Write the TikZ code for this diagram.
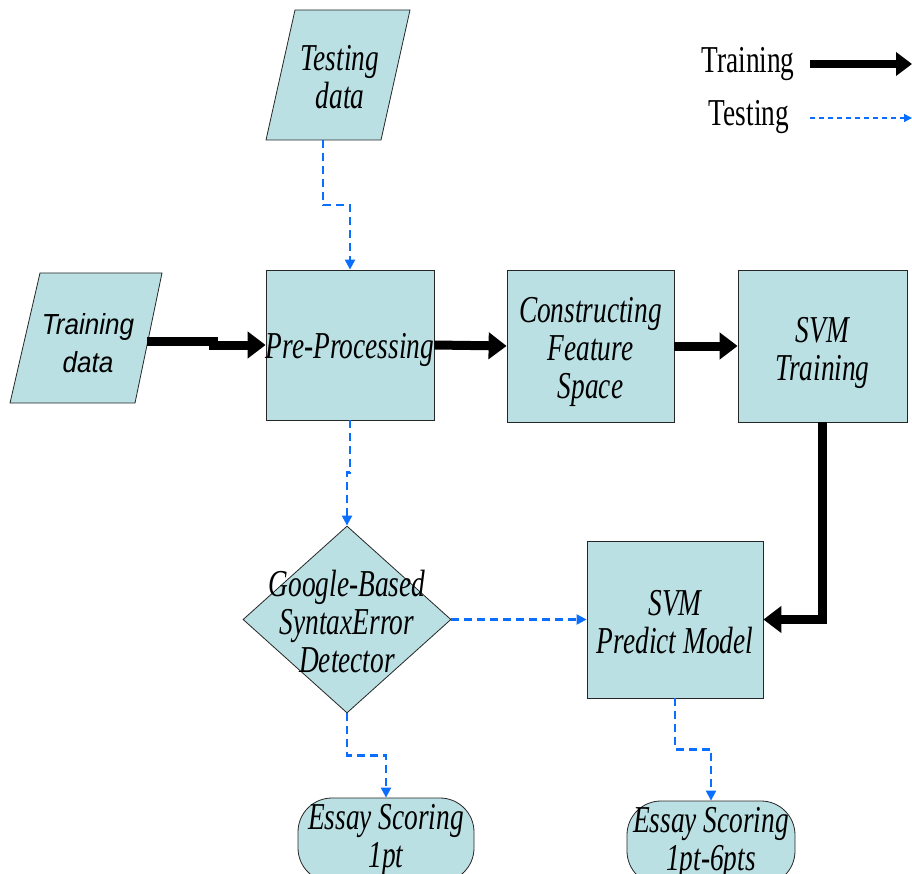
\documentclass[tikz,border=0pt]{standalone}
\usepackage{fontspec}
\setmainfont{Liberation Serif}[FakeStretch=0.72]
\newfontfamily\sansitfam{Liberation Sans}[FakeStretch=0.9]
\usetikzlibrary{arrows.meta,shapes.geometric}
\definecolor{boxfill}{RGB}{187,224,227}
\definecolor{testblue}{RGB}{10,110,255}
\newcommand\dgfont{\fontsize{38}{38}\selectfont}
\newcommand\dgsans{\sansitfam\itshape\fontsize{29}{38}\selectfont}
\tikzset{
  blk/.style={draw=black!85, line width=0.8pt, fill=boxfill},
  procbox/.style={blk, rectangle, inner sep=0pt},
  termbox/.style={blk, rectangle, rounded corners=34pt, inner sep=0pt, align=center, font=\dgfont\itshape},
  decbox/.style={blk, diamond, inner sep=0pt},
  lbl/.style={align=center, inner sep=0pt},
  itlbl/.style={lbl, font=\dgfont\itshape},
  trainarrow/.style={line width=9pt, line join=miter, -{Triangle[length=18pt,width=26pt]}},
  testarrow/.style={draw=testblue, line width=2.2pt, dash pattern=on 8pt off 5pt, -{Triangle[length=10pt,width=10pt,fill=testblue]}}
}
\begin{document}
\begin{tikzpicture}[x=1pt,y=-1pt]
\useasboundingbox (0,0) rectangle (912,874);
\clip (0,0) rectangle (912,874);

% parallelograms
\draw[blk] (295,10) -- (410,10) -- (381,140) -- (266,140) -- cycle;
\node[itlbl] (tdtext) at (340,77) {Testing\\data};
\coordinate (tdout) at (323,140);

\draw[blk] (40,273) -- (162,273) -- (135,403) -- (10,403) -- cycle;
\node[lbl, font=\dgsans] (trtext) at (88,343) {Training\\data};
\coordinate (trout) at (147,341);

% boxes
\node[procbox, minimum width=168pt, minimum height=150pt] (pre) at (350,345) {};
\node[itlbl] (pretext) at ([yshift=-5pt]pre) {Pre-Processing};
\node[procbox, minimum width=167pt, minimum height=152pt] (cfs) at (590.5,346) {};
\node[itlbl] (cfstext) at ([yshift=-6pt]cfs) {Constructing\\Feature\\Space};
\node[procbox, minimum width=169pt, minimum height=152pt] (svmt) at (822.5,346) {};
\node[itlbl] (svmttext) at ([yshift=-7pt]svmt) {SVM\\Training};
\node[procbox, minimum width=176pt, minimum height=157pt] (pred) at (675,619.5) {};
\node[itlbl] (predtext) at ([yshift=-3pt]pred) {SVM\\Predict Model};
\node[decbox, minimum width=208pt, minimum height=187pt] (gd) at (347,619.5) {};
\node[itlbl] (gdtext) at (347,621) {Google-Based\\SyntaxError\\Detector};
\node[termbox, minimum width=176pt, minimum height=84pt] (term1) at (386,840) {Essay Scoring\\1pt};
\node[termbox, minimum width=168pt, minimum height=84pt] (term2) at (711,843) {Essay Scoring\\1pt-6pts};

% training connectors
\draw[trainarrow] (trout) -- (213,341) -- (213,345) -- (pre.west);
\draw[trainarrow] (pre.east) -- (cfs.west);
\draw[trainarrow] (cfs.east) -- (svmt.west);
\draw[trainarrow] (svmt.south) |- (pred.east);

% testing connectors
\draw[testarrow] (tdout) -- ++(0,65) -| (pre.north);
\draw[testarrow] (pre.south) -- ++(0,52) -| (gd.north);
\draw[testarrow] (gd.east) -- (pred.west);
\draw[testarrow] (gd.south) -- ++(0,42) -| (term1.north);
\draw[testarrow] (pred.south) -- ++(0,51) -| (term2.north);

% legend
\node[lbl, font=\dgfont] (legtr) at (748,64) {Training};
\coordinate (legtrA) at (810,64);
\coordinate (legtrB) at (912,64);
\draw[line width=8pt, -{Triangle[length=16pt,width=23pt]}] (legtrA) -- (legtrB);
\node[lbl, font=\dgfont] (legte) at (749,117) {Testing};
\coordinate (legteA) at (810,118);
\coordinate (legteB) at (912,118);
\draw[testarrow, line width=1.5pt, dash pattern=on 5pt off 4pt, -{Triangle[length=8pt,width=8pt,fill=testblue]}] (legteA) -- (legteB);
\end{tikzpicture}
\end{document}
